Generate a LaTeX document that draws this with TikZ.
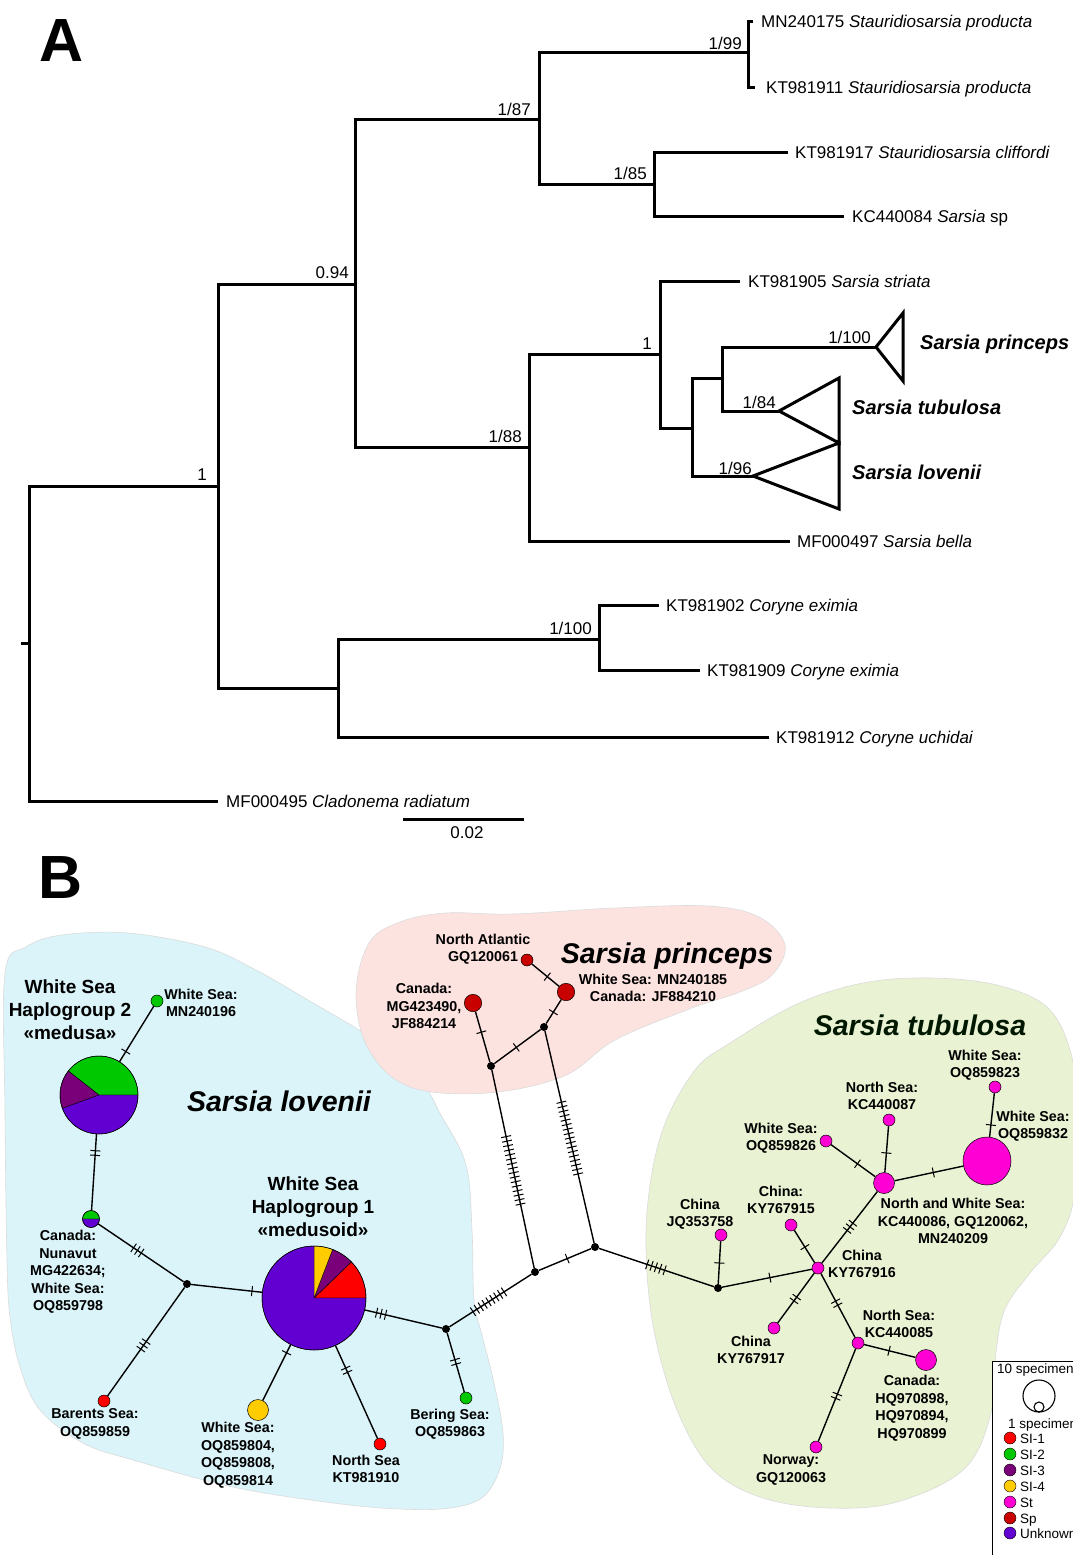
\documentclass[tikz,border=0pt]{standalone}
\usepackage{fontspec}
\setmainfont{Liberation Sans}
\usetikzlibrary{calc}
\definecolor{cI}{HTML}{FF0000}
\definecolor{cII}{HTML}{00C800}
\definecolor{cIII}{HTML}{7A007A}
\definecolor{cIV}{HTML}{FFCC00}
\definecolor{cSt}{HTML}{FF00D4}
\definecolor{cSp}{HTML}{C80000}
\definecolor{cUn}{HTML}{6200D2}
\definecolor{bgBlue}{HTML}{DAF4F9}
\definecolor{bgPink}{HTML}{FDE3E0}
\definecolor{bgGreen}{HTML}{E9F2D2}
\newcommand\trf{\fontsize{17}{20}\selectfont}
\newcommand\tkm[4]{%
  \coordinate (tq) at ($(#1.center)!(#3)!(#2.center)$);
  \foreach \k in {1,...,#4}{%
    \pgfmathsetmacro\toff{(\k-(#4+1)/2)*4.6}%
    \coordinate (tr) at ($(tq)!\toff pt!(#2.center)$);
    \draw[tickln] ($(tr)!5pt!90:(#2.center)$) -- ($(tr)!5pt!-90:(#2.center)$);
  }}
\begin{document}
\begin{tikzpicture}[x=1pt,y=-1pt,
  branch/.style={line width=3pt, line join=miter, line cap=butt},
  tiplab/.style={anchor=base west, inner sep=0pt, font=\trf},
  bootlab/.style={anchor=base east, inner sep=0pt, font=\trf},
  cladelab/.style={anchor=base west, inner sep=0pt, font=\bfseries\itshape\fontsize{20}{24}\selectfont},
  blob/.style={draw=black!14, line width=0.6pt},
  sm/.style={circle, draw=black, line width=0.5pt, inner sep=0pt, minimum size=12pt},
  md/.style={circle, draw=black, line width=0.5pt, inner sep=0pt, minimum size=17.4pt},
  lg/.style={circle, draw=black, line width=0.5pt, inner sep=0pt, minimum size=21pt},
  pie/.style={circle, inner sep=0pt},
  jn/.style={circle, fill=black, inner sep=0pt, minimum size=8pt},
  edge/.style={line width=1.4pt},
  tickln/.style={line width=1pt},
  slice/.style={draw=black, line width=0.4pt},
  lab/.style={font=\bfseries\fontsize{14.3}{17.5}\selectfont, align=center, inner sep=0pt},
  ttl/.style={font=\bfseries\fontsize{19}{23}\selectfont, align=center, inner sep=0pt},
  bigit/.style={anchor=base, inner sep=0pt, font=\bfseries\itshape\fontsize{28.5}{32}\selectfont},
  leglab/.style={anchor=base west, inner sep=0pt, font=\fontsize{13.5}{16}\selectfont},
  legdot/.style={circle, draw=black, line width=0.4pt, inner sep=0pt, minimum size=12pt}
]
\useasboundingbox (0,0) rectangle (1073,1555);
\clip (0,0) rectangle (1073,1555);

% ---------------- Panel A ----------------
\node[anchor=base, inner sep=0pt, font=\bfseries\fontsize{61}{61}\selectfont] (lblA) at (62,62) {A};

\draw[branch] (21,643) -- (29,643);
\draw[branch] (218,486) -- (29,486) -- (29,801) -- (218,801);
\draw[branch] (355,284) -- (218,284) -- (218,688) -- (338,688);
\draw[branch] (539,119) -- (355,119) -- (355,447) -- (529,447);
\draw[branch] (748,53) -- (539,53) -- (539,184) -- (654,184);
\draw[branch] (753,22) -- (748,22) -- (748,87) -- (755,87);
\draw[branch] (788,152) -- (654,152) -- (654,216) -- (844,216);
\draw[branch] (660,354) -- (529,354) -- (529,541) -- (790,541);
\draw[branch] (740,281) -- (660,281) -- (660,428) -- (692,428);
\draw[branch] (722,378) -- (692,378) -- (692,476) -- (753,476);
\draw[branch] (876,347) -- (722,347) -- (722,411) -- (779,411);
\draw[branch] (876,347) -- (903,313) -- (903,381) -- cycle;
\draw[branch] (779,411) -- (839,378) -- (839,443) -- cycle;
\draw[branch] (753,476) -- (839,443) -- (839,509) -- cycle;
\draw[branch] (599,639) -- (338,639) -- (338,737) -- (769,737);
\draw[branch] (659,605) -- (599,605) -- (599,670) -- (700,670);
\draw[branch] (403,819) -- (524,819);

\node[tiplab] (t1) at (761,28) {MN240175 \textit{Stauridiosarsia producta}};
\node[tiplab] (t2) at (766,93) {KT981911 \textit{Stauridiosarsia producta}};
\node[tiplab] (t3) at (795,158) {KT981917 \textit{Stauridiosarsia cliffordi}};
\node[tiplab] (t4) at (852,222) {KC440084 \textit{Sarsia} sp};
\node[tiplab] (t5) at (748,287) {KT981905 \textit{Sarsia striata}};
\node[tiplab] (t6) at (797,547) {MF000497 \textit{Sarsia bella}};
\node[tiplab] (t7) at (666,611) {KT981902 \textit{Coryne eximia}};
\node[tiplab] (t8) at (707,676) {KT981909 \textit{Coryne eximia}};
\node[tiplab] (t9) at (776,743) {KT981912 \textit{Coryne uchidai}};
\node[tiplab] (t10) at (226,807) {MF000495 \textit{Cladonema radiatum}};
\node[cladelab] (c1) at (920,349) {Sarsia princeps};
\node[cladelab] (c2) at (852,414) {Sarsia tubulosa};
\node[cladelab] (c3) at (852,479) {Sarsia lovenii};

\node[bootlab] (b1) at (742,50) {1/99};
\node[bootlab] (b2) at (531,115) {1/87};
\node[bootlab] (b3) at (647,179) {1/85};
\node[bootlab] (b4) at (349,278) {0.94};
\node[bootlab] (b5) at (207,480) {1};
\node[bootlab] (b6) at (522,442) {1/88};
\node[bootlab] (b7) at (652,349) {1};
\node[bootlab] (b8) at (871,343) {1/100};
\node[bootlab] (b9) at (776,408) {1/84};
\node[bootlab] (b10) at (752,474) {1/96};
\node[bootlab] (b11) at (592,634) {1/100};
\node[anchor=base, inner sep=0pt, font=\trf] (scl) at (467,838) {0.02};

% ---------------- Panel B ----------------
\node[anchor=base, inner sep=0pt, font=\bfseries\fontsize{61}{61}\selectfont] (lblB) at (61,898) {B};

\filldraw[blob, fill=bgBlue] plot[smooth cycle, tension=0.6] coordinates {
 (5,973) (26,947) (62,935) (128,933) (205,947) (256,970) (308,1000) (359,1030)
 (410,1063) (441,1115) (466,1165) (472,1230) (474,1300) (482,1335) (494,1383)
 (503,1433) (500,1468) (483,1497) (450,1508) (400,1509) (333,1503) (233,1487)
 (133,1460) (83,1443) (40,1410) (20,1367) (10,1317) (7,1260) (5,1112)};
\filldraw[blob, fill=bgPink] plot[smooth cycle, tension=0.6] coordinates {
 (356,995) (369,943) (400,922) (446,913) (513,914) (615,908) (708,906) (759,917)
 (785,945) (772,975) (740,992) (692,1008) (615,1040) (564,1076) (487,1093)
 (410,1087) (369,1050)};
\filldraw[blob, fill=bgGreen] plot[smooth cycle, tension=0.6] coordinates {
 (730,1043) (797,1004) (863,983) (930,978) (997,985) (1047,1007) (1070,1050)
 (1076,1100) (1075,1190) (1060,1237) (1030,1273) (1005,1309) (996,1352)
 (990,1417) (963,1470) (897,1502) (830,1508) (763,1498) (713,1470) (680,1417)
 (657,1345) (647,1273) (648,1201) (663,1129) (695,1070)};

% haplotype nodes
\node[pie, minimum size=78pt] (h2) at (99,1095) {};
\node[pie, minimum size=104pt] (h1) at (314,1298) {};
\node[pie, minimum size=17pt] (nun) at (91,1219) {};
\node[sm, fill=cII] (mn196) at (157,1001) {};
\node[sm, fill=cI] (bar) at (104,1401) {};
\node[lg, fill=cIV] (ws4) at (258,1410) {};
\node[sm, fill=cI] (ns1) at (380,1444) {};
\node[sm, fill=cII] (ber) at (466,1398) {};
\node[jn] (jL) at (187,1284) {};
\node[jn] (jR) at (446,1329) {};
\node[jn] (jC) at (535,1272) {};
\node[jn] (jU) at (595,1247) {};
\node[jn] (jT) at (718,1288) {};
\node[jn] (jP1) at (491,1066) {};
\node[jn] (jP2) at (544,1027) {};
\node[md, fill=cSp] (canP) at (473,1003) {};
\node[md, fill=cSp] (wsP) at (566,992) {};
\node[sm, fill=cSp] (naP) at (527,960) {};
\node[sm, fill=cSt] (jq) at (721,1235) {};
\node[sm, fill=cSt] (k916) at (818,1268) {};
\node[sm, fill=cSt] (k915) at (791,1225) {};
\node[sm, fill=cSt] (k917) at (774,1328) {};
\node[sm, fill=cSt] (kc85) at (858,1343) {};
\node[lg, fill=cSt] (canT) at (926,1360) {};
\node[sm, fill=cSt] (nor) at (816,1447) {};
\node[lg, fill=cSt] (nws) at (884,1183) {};
\node[sm, fill=cSt] (oq26) at (826,1141) {};
\node[sm, fill=cSt] (kc87) at (889,1120) {};
\node[circle, draw=black, line width=0.5pt, inner sep=0pt, minimum size=48pt, fill=cSt] (big) at (987,1161) {};
\node[sm, fill=cSt] (oq23) at (995,1087) {};

% pies
\begin{scope}[shift={(h2.center)}, x=1pt, y=1pt]
  \filldraw[slice, fill=cII] (0,0) -- (0:39) arc[start angle=0, end angle=142, radius=39] -- cycle;
  \filldraw[slice, fill=cIII] (0,0) -- (142:39) arc[start angle=142, end angle=200, radius=39] -- cycle;
  \filldraw[slice, fill=cUn] (0,0) -- (200:39) arc[start angle=200, end angle=360, radius=39] -- cycle;
  \draw[line width=0.5pt] (0,0) circle[radius=39];
\end{scope}
\begin{scope}[shift={(h1.center)}, x=1pt, y=1pt]
  \filldraw[slice, fill=cI] (0,0) -- (0:52) arc[start angle=0, end angle=44, radius=52] -- cycle;
  \filldraw[slice, fill=cIII] (0,0) -- (44:52) arc[start angle=44, end angle=69, radius=52] -- cycle;
  \filldraw[slice, fill=cIV] (0,0) -- (69:52) arc[start angle=69, end angle=90, radius=52] -- cycle;
  \filldraw[slice, fill=cUn] (0,0) -- (90:52) arc[start angle=90, end angle=360, radius=52] -- cycle;
  \draw[line width=0.5pt] (0,0) circle[radius=52];
\end{scope}
\begin{scope}[shift={(nun.center)}, x=1pt, y=1pt]
  \filldraw[slice, fill=cII] (0,0) -- (0:8.5) arc[start angle=0, end angle=180, radius=8.5] -- cycle;
  \filldraw[slice, fill=cUn] (0,0) -- (180:8.5) arc[start angle=180, end angle=360, radius=8.5] -- cycle;
  \draw[line width=0.5pt] (0,0) circle[radius=8.5];
\end{scope}

% edges
\draw[edge] (h2) -- (mn196);   \tkm{h2}{mn196}{125,1051}{1}
\draw[edge] (h2) -- (nun);     \tkm{h2}{nun}{95,1153}{2}
\draw[edge] (nun) -- (jL);     \tkm{nun}{jL}{137,1251}{3}
\draw[edge] (jL) -- (bar);     \tkm{jL}{bar}{143,1345}{3}
\draw[edge] (jL) -- (h1);      \tkm{jL}{h1}{252,1291}{1}
\draw[edge] (h1) -- (ws4);     \tkm{h1}{ws4}{287,1353}{1}
\draw[edge] (h1) -- (ns1);     \tkm{h1}{ns1}{347,1370}{2}
\draw[edge] (h1) -- (jR);      \tkm{h1}{jR}{381,1314}{3}
\draw[edge] (jR) -- (ber);     \tkm{jR}{ber}{455,1362}{2}
\draw[edge] (jR) -- (jC);      \tkm{jR}{jC}{488,1301}{9}
\draw[edge] (jC) -- (jU);      \tkm{jC}{jU}{567,1258}{1}
\draw[edge] (jU) -- (jT);      \tkm{jU}{jT}{656,1267}{5}
\draw[edge] (jC) -- (jP1);     \tkm{jC}{jP1}{515,1170}{16}
\draw[edge] (jU) -- (jP2);     \tkm{jU}{jP2}{570,1138}{17}
\draw[edge] (jP1) -- (canP);   \tkm{jP1}{canP}{482,1032}{1}
\draw[edge] (jP1) -- (jP2);    \tkm{jP1}{jP2}{516,1047}{1}
\draw[edge] (jP2) -- (wsP);    \tkm{jP2}{wsP}{553,1012}{1}
\draw[edge] (wsP) -- (naP);    \tkm{wsP}{naP}{547,977}{1}
\draw[edge] (jT) -- (jq);      \tkm{jT}{jq}{720,1263}{1}
\draw[edge] (jT) -- (k916);    \tkm{jT}{k916}{770,1278}{1}
\draw[edge] (k916) -- (k915);  \tkm{k916}{k915}{805,1247}{1}
\draw[edge] (k916) -- (k917);  \tkm{k916}{k917}{794,1298}{2}
\draw[edge] (k916) -- (kc85);  \tkm{k916}{kc85}{837,1303}{2}
\draw[edge] (kc85) -- (canT);  \tkm{kc85}{canT}{889,1351}{1}
\draw[edge] (kc85) -- (nor);   \tkm{kc85}{nor}{836,1396}{2}
\draw[edge] (k916) -- (nws);   \tkm{k916}{nws}{849,1226}{3}
\draw[edge] (nws) -- (oq26);   \tkm{nws}{oq26}{858,1163}{1}
\draw[edge] (nws) -- (kc87);   \tkm{nws}{kc87}{887,1153}{1}
\draw[edge] (nws) -- (big);    \tkm{nws}{big}{933,1171}{1}
\draw[edge] (big) -- (oq23);   \tkm{big}{oq23}{991,1125}{1}

% group names
\node[bigit] (gL) at (279,1111) {Sarsia lovenii};
\node[bigit] (gP) at (667,963) {Sarsia princeps};
\node[bigit, text=black!85!green!60!black] (gT) at (920,1035) {Sarsia tubulosa};

% labels
\node[ttl] (lh2) at (70,1010) {White Sea\\Haplogroup 2\\«medusa»};
\node[ttl] (lh1) at (313,1207) {White Sea\\Haplogroup 1\\«medusoid»};
\node[lab] (l1) at (201,1003) {White Sea:\\MN240196};
\node[lab] (l2) at (68,1272) {Canada:\\Nunavut\\MG422634;\\White Sea:\\OQ859798};
\node[lab] (l3) at (95,1424) {Barents Sea:\\OQ859859};
\node[lab] (l4) at (238,1455) {White Sea:\\OQ859804,\\OQ859808,\\OQ859814};
\node[lab] (l5) at (366,1469) {North Sea\\KT981910};
\node[lab] (l6) at (450,1424) {Bering Sea:\\OQ859863};
\node[lab] (l7) at (483,949) {North Atlantic\\GQ120061};
\node[lab] (l8) at (424,1006) {Canada:\\MG423490,\\JF884214};
\node[lab] (l9) at (653,988) {White Sea: MN240185\\Canada: JF884210};
\node[lab] (l10) at (700,1214) {China\\JQ353758};
\node[lab] (l11) at (781,1200) {China:\\KY767915};
\node[lab] (l12) at (862,1264) {China\\KY767916};
\node[lab] (l13) at (751,1350) {China\\KY767917};
\node[lab] (l14) at (899,1324) {North Sea:\\KC440085};
\node[lab] (l15) at (912,1408) {Canada:\\HQ970898,\\HQ970894,\\HQ970899};
\node[lab] (l16) at (791,1470) {Norway:\\GQ120063};
\node[lab] (l17) at (953,1221) {North and White Sea:\\KC440086, GQ120062,\\MN240209};
\node[lab] (l18) at (781,1138) {White Sea:\\OQ859826};
\node[lab] (l19) at (882,1096) {North Sea:\\KC440087};
\node[lab] (l20) at (985,1065) {White Sea:\\OQ859823};
\node[lab] (l21) at (1033,1126) {White Sea:\\OQ859832};

% legend
\fill[white] (992,1361) rectangle (1080,1560);
\draw[line width=0.8pt] (992,1560) -- (992,1361) -- (1080,1361);
\node[leglab] (lg10) at (997,1373) {10 specimens};
\draw[line width=1.1pt] (1039,1396) circle[radius=16];
\draw[line width=1.1pt] (1039,1407) circle[radius=5];
\node[leglab] (lg1) at (1008,1428) {1 specimen};
\node[legdot, fill=cI] (d1) at (1010,1438) {};
\node[legdot, fill=cII] (d2) at (1010,1454) {};
\node[legdot, fill=cIII] (d3) at (1010,1470) {};
\node[legdot, fill=cIV] (d4) at (1010,1486) {};
\node[legdot, fill=cSt] (d5) at (1010,1502) {};
\node[legdot, fill=cSp] (d6) at (1010,1518) {};
\node[legdot, fill=cUn] (d7) at (1010,1533) {};
\node[leglab] at (1020,1443) {SI-1};
\node[leglab] at (1020,1459) {SI-2};
\node[leglab] at (1020,1475) {SI-3};
\node[leglab] at (1020,1491) {SI-4};
\node[leglab] at (1020,1507) {St};
\node[leglab] at (1020,1523) {Sp};
\node[leglab] at (1020,1538) {Unknown};
\end{tikzpicture}
\end{document}
